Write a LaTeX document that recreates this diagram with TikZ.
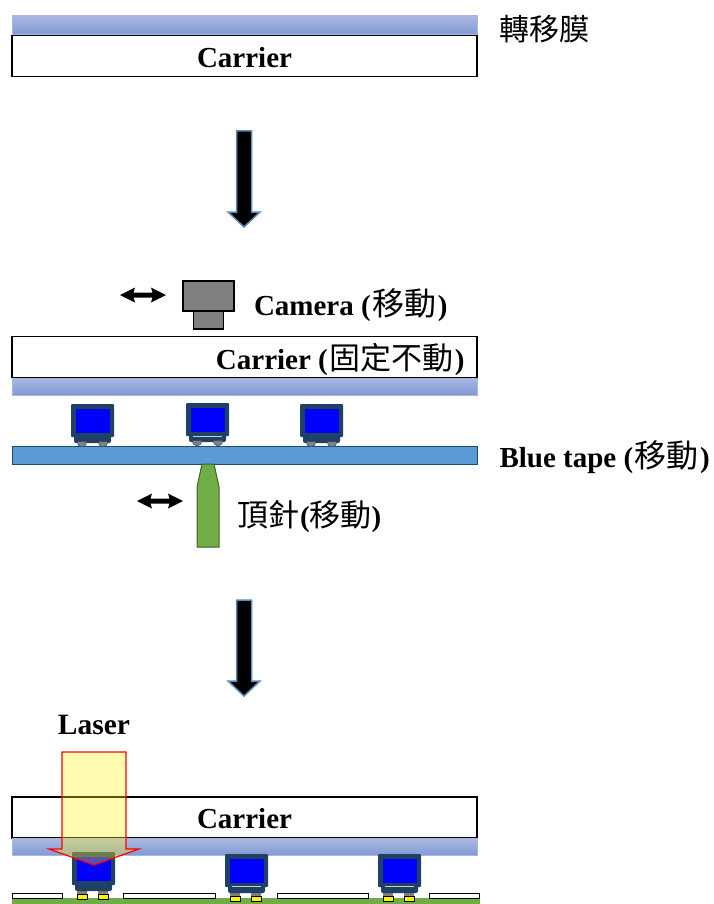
\documentclass[tikz,border=0pt]{standalone}
\usepackage{fontspec}
\setmainfont{Liberation Serif}
\newfontfamily\cjk{Noto Sans CJK TC}
\usetikzlibrary{positioning}
\definecolor{chipedge}{HTML}{1F4263}
\definecolor{tapeblue}{HTML}{5B9BD5}
\definecolor{tapeedge}{HTML}{1F4E6B}
\definecolor{pingreen}{HTML}{70AD47}
\definecolor{pinedge}{HTML}{3E6428}
\definecolor{filmtop}{HTML}{A9B8E2}
\definecolor{filmbottom}{HTML}{8099D4}
\definecolor{flowedge}{HTML}{5B8DB8}
\newcommand{\cjkpart}[2][32]{\mbox{\fontsize{#1}{32}\selectfont\cjk\mdseries\hspace{1.5pt}#2\hspace{1.5pt}}}
\newcommand{\flowarrow}[3]{\draw[flow] (#1-7.5,#2) -- (#1+7.5,#2) -- (#1+7.5,#3-15) -- (#1+16,#3-15) -- (#1,#3) -- (#1-16,#3-15) -- (#1-7.5,#3-15) -- cycle;}
\newcommand{\movearrow}[2]{\fill (#1,#2) -- (#1+15,#2-7.5) -- (#1+13.5,#2-2.5) -- (#1+32.5,#2-2.5) -- (#1+31,#2-7.5) -- (#1+46,#2) -- (#1+31,#2+7.5) -- (#1+32.5,#2+2.5) -- (#1+13.5,#2+2.5) -- (#1+15,#2+7.5) -- cycle;}
\newcommand{\chipbody}[2]{
	\fill[chipedge,rounded corners=1pt] (#1,#2) rectangle ++(43,33);
	\fill[chipedge,rounded corners=2pt] (#1+3,#2+30) rectangle ++(37,9);
	\fill[blue] (#1+4.5,#2+4.5) rectangle ++(34,24);
}
\newcommand{\chipfoot}[2]{\filldraw[fill=black!50,draw=chipedge,line width=0.4pt] (#1-5,#2) arc[start angle=180,end angle=360,x radius=5pt,y radius=5.5pt] -- cycle;}
\begin{document}
\begin{tikzpicture}[x=1pt,y=-1pt]
	\tikzset{carrier/.style={draw,line width=1.3pt,fill=white,minimum width=465pt,minimum height=41pt,inner sep=0pt,outer sep=0pt,text height=23pt,font=\fontsize{29}{32}\selectfont\bfseries},
		film/.style={draw=filmbottom!70!white,line width=0.8pt,top color=filmtop,bottom color=filmbottom,minimum width=465pt,minimum height=17pt,inner sep=0pt,outer sep=0pt},
		label/.style={inner sep=0pt,outer sep=0pt,font=\fontsize{29}{32}\selectfont},
		flow/.style={fill=black,draw=flowedge,line width=1.5pt},
		lens/.style={draw,line width=1.2pt,fill=black!50,inner sep=0pt,outer sep=0pt}}
	\useasboundingbox (0,0) rectangle (713,904);

	% first step
	\node [carrier] (carrierA) at (244.5,56) {Carrier};
	\node [film, above=0.7pt of carrierA, minimum height=19pt] (filmA) {};
	\node [label, anchor=west, font=\fontsize{30}{32}\selectfont] (filmtext) at (499,29) {\cjk 轉移膜};
	\flowarrow{244}{131}{227}

	% second step
	\node [carrier] (carrierB) at (244.5,357) {};
	\node [label, anchor=east] (carriertext) at (464.5,359) {\bfseries Carrier (\cjkpart[31]{固定不動})};
	\node [film, below=0.7pt of carrierB] (filmB) {};
	\node [lens, minimum width=51pt, minimum height=30pt] (camtop) at (208.5,296) {};
	\node [lens, below=0pt of camtop, minimum width=30pt, minimum height=18pt] (cambase) {};
	\node [label, anchor=west] (camtext) at (254,305) {\bfseries Camera (\cjkpart{移動})};
	\movearrow{120}{295}

	\node [draw=tapeedge, line width=1pt, fill=tapeblue, minimum width=465pt, minimum height=18pt, inner sep=0pt, outer sep=0pt] (tape) at (244.5,455) {};
	\node [label, anchor=west] (tapetext) at (499.5,457) {\bfseries Blue tape (\cjkpart{移動})};
	\foreach \cx/\cy in {71/404,186/403,300/404}{
		\chipbody{\cx}{\cy}
		\chipfoot{\cx+11}{\cy+37.5}
		\chipfoot{\cx+32}{\cy+37.5}
	}
	\draw[white!75!chipedge,line width=0.7pt] (193,436.5) -- (222,436.5);
	\draw[pinedge,line width=1pt,fill=pingreen] (202,464) -- (214,464) -- (219,487) -- (219,547) -- (197,547) -- (197,487) -- cycle;
	\node [label, anchor=west] (pintext) at (237,516) {\cjk\fontsize{31}{32}\selectfont 頂針\mbox{\rmfamily\bfseries\fontsize{29}{32}\selectfont\hspace{1pt}(}移動\mbox{\rmfamily\bfseries\fontsize{29}{32}\selectfont)}};
	\movearrow{137}{501}
	\flowarrow{244}{600}{696}

	% third step
	\node [carrier] (carrierC) at (244.5,817.5) {Carrier};
	\node [film, below=0.7pt of carrierC] (filmC) {};
	\fill[pingreen] (12,898) rectangle (480,904);
	\foreach \padx/\padw in {12.5/49.5,123.5/91.5,277/91,429.5/49.5}{
		\draw[line width=1pt,fill=white] (\padx,893) rectangle ++(\padw,5);
	}
	\foreach \cx/\cy in {72/852,225/854,378/854}{
		\fill[black!50] (\cx+5,\cy+37) rectangle ++(10,6) (\cx+26,\cy+37) rectangle ++(10,6);
		\draw[line width=1pt,fill=yellow] (\cx+5,\cy+42.5) rectangle ++(10,5) (\cx+26,\cy+42.5) rectangle ++(10,5);
		\chipbody{\cx}{\cy}
	}
	\draw[white!75!chipedge,line width=0.7pt] (232,886.5) -- (261,886.5) (385,886.5) -- (414,886.5);
	\node [label, font=\fontsize{29.5}{32}\selectfont\bfseries, anchor=center] (lasertext) at (94,725) {Laser};
	\draw[red,line width=1.2pt,fill=yellow!90!white,fill opacity=0.35] (62,752) -- (126,752) -- (126,849) -- (139,849) -- (94,865) -- (49,849) -- (62,849) -- cycle;
\end{tikzpicture}
\end{document}
